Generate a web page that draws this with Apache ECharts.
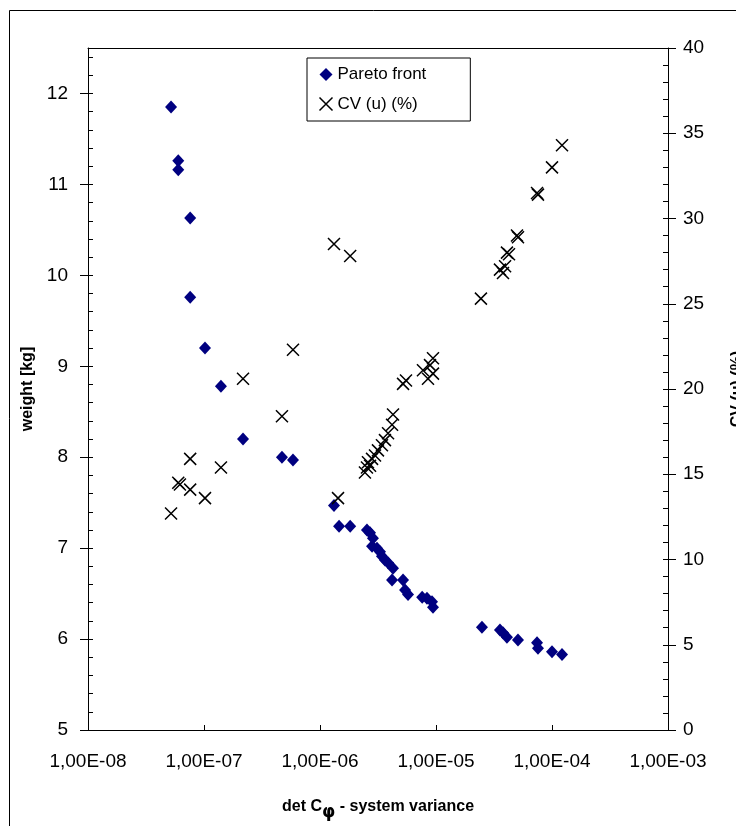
<!DOCTYPE html>
<html lang="en">
<head>
    <meta charset="UTF-8">
    <title>Pareto front</title>
    <script src="https://cdn.jsdelivr.net/npm/echarts@6/dist/echarts.min.js"></script>
    <style>
      html, body { margin: 0; padding: 0; background: #fff; }
    </style>
</head>
<body>
<div id="main" style="width: 736px;height:826px;"></div>

<script>
// Pareto front: det C (x) and weight [kg]
var paretoX = [5.2e-8, 6.0e-8, 6.0e-8, 7.6e-8, 7.6e-8, 1.02e-7, 1.40e-7, 2.17e-7, 4.70e-7, 5.85e-7,
  1.32e-6, 1.46e-6, 1.82e-6, 2.54e-6, 2.70e-6, 2.86e-6, 2.81e-6, 3.10e-6, 3.29e-6, 3.42e-6,
  3.63e-6, 3.86e-6, 4.26e-6, 4.18e-6, 5.20e-6, 5.41e-6, 5.74e-6, 7.60e-6, 8.36e-6, 9.24e-6,
  9.42e-6, 2.49e-5, 3.56e-5, 3.78e-5, 4.09e-5, 5.09e-5, 7.43e-5, 7.57e-5, 1.0e-4, 1.22e-4];
var paretoWeight = [11.85, 11.26, 11.16, 10.63, 9.76, 9.20, 8.78, 8.20, 8.00, 7.97,
  7.47, 7.24, 7.24, 7.20, 7.17, 7.11, 7.02, 7.00, 6.96, 6.91,
  6.87, 6.84, 6.78, 6.65, 6.65, 6.54, 6.49, 6.46, 6.45, 6.41,
  6.35, 6.13, 6.10, 6.07, 6.02, 5.99, 5.96, 5.90, 5.86, 5.83];

// CV(u) (%) points
var cvX = [5.2e-8, 6.0e-8, 6.2e-8, 7.6e-8, 7.6e-8, 1.02e-7, 1.40e-7, 2.17e-7, 4.70e-7, 5.85e-7,
  1.32e-6, 1.82e-6, 1.43e-6, 2.44e-6, 2.54e-6, 2.59e-6, 2.70e-6, 2.81e-6, 2.98e-6, 3.16e-6,
  3.42e-6, 3.63e-6, 3.86e-6, 4.18e-6, 4.26e-6, 5.20e-6, 5.51e-6, 7.72e-6, 8.53e-6, 8.88e-6,
  9.42e-6, 9.42e-6, 2.44e-5, 3.56e-5, 3.78e-5, 3.94e-5, 4.09e-5, 4.26e-5, 4.99e-5, 5.09e-5,
  7.43e-5, 7.57e-5, 1.0e-4, 1.22e-4];
var cvValue = [12.7, 14.5, 14.4, 15.9, 14.1, 13.6, 15.4, 20.6, 18.4, 22.3,
  28.5, 27.8, 13.6, 15.1, 15.4, 15.7, 15.5, 15.9, 16.1, 16.4,
  16.7, 17.0, 17.4, 17.9, 18.5, 20.3, 20.5, 21.1, 20.6, 21.4,
  21.8, 20.9, 25.3, 27.0, 26.8, 27.2, 28.0, 27.9, 29.0, 28.9,
  31.5, 31.4, 33.0, 34.3];

var font = 'Liberation Sans, Arial, sans-serif';
var crossPath = 'path://M0,0L10,10M10,0L0,10';

function pairs(xs, ys) {
  var out = [];
  for (var i = 0; i < xs.length; i++) out.push([xs[i], ys[i]]);
  return out;
}

// 1e-8 -> "1,00E-08"
function sciLabel(v) {
  var e = Math.round(Math.log(v) / Math.LN10);
  var s = Math.abs(e) < 10 ? '0' + Math.abs(e) : '' + Math.abs(e);
  return '1,00E' + (e < 0 ? '-' : '+') + s;
}

var myChart = echarts.init(document.getElementById('main'));

var labelStyle = { color: '#000', fontFamily: font, fontSize: 19 };
var nameStyle = { color: '#000', fontFamily: font, fontSize: 16, fontWeight: 'bold' };

var option = {
  backgroundColor: '#fff',
  animation: false,
  graphic: [{
    type: 'rect',
    shape: { x: 9.5, y: 10.5, width: 1000, height: 1000 },
    style: { fill: 'none', stroke: '#000', lineWidth: 1 },
    silent: true
  }],
  legend: {
    left: 307, top: 58,
    orient: 'vertical',
    width: 150,
    padding: [8, 44, 8, 10],
    itemGap: 12,
    itemWidth: 13, itemHeight: 13,
    borderColor: '#000', borderWidth: 1,
    backgroundColor: '#fff',
    textStyle: { color: '#000', fontFamily: font, fontSize: 17 },
    data: [
      { name: 'Pareto front', icon: 'diamond' },
      { name: 'CV (u) (%)', icon: crossPath, itemStyle: { color: 'none', borderColor: '#000', borderWidth: 1.5 } }
    ]
  },
  grid: { left: 88, right: 68, top: 48, bottom: 96, outerBoundsMode: 'none', containLabel: false },
  xAxis: [{
    type: 'log',
    logBase: 10,
    min: 1e-8, max: 1e-3,
    name: '{a|det C}{sub|φ}{a| - system variance}',
    nameLocation: 'middle',
    nameGap: 62,
    nameTextStyle: {
      rich: {
        a: { color: '#000', fontFamily: font, fontSize: 16, fontWeight: 'bold' },
        sub: { color: '#000', fontFamily: 'DejaVu Sans, sans-serif', fontSize: 17, fontWeight: 'bold', padding: [12, 0, 0, 0] }
      }
    },
    axisLine: { lineStyle: { color: '#000', width: 1 } },
    axisTick: { inside: true, length: 5, lineStyle: { color: '#000' } },
    axisLabel: Object.assign({ margin: 22, formatter: sciLabel }, labelStyle),
    splitLine: { show: false },
    minorTick: { show: false }
  }, {
    type: 'value',
    position: 'top',
    min: 0, max: 1,
    axisLine: { show: true, onZero: false, lineStyle: { color: '#000', width: 1 } },
    axisTick: { show: false },
    axisLabel: { show: false },
    splitLine: { show: false }
  }],
  yAxis: [{
    type: 'value',
    position: 'left',
    min: 5, max: 12.5, interval: 1,
    name: 'weight [kg]',
    nameLocation: 'middle',
    nameRotate: 90,
    nameGap: 48,
    nameTextStyle: nameStyle,
    axisLine: { show: true, lineStyle: { color: '#000', width: 1 } },
    axisTick: { show: true, inside: false, length: 8, lineStyle: { color: '#000' } },
    axisLabel: Object.assign({ margin: 20, showMaxLabel: false }, labelStyle),
    splitLine: { show: false }
  }, {
    type: 'value',
    position: 'right',
    min: 0, max: 40, interval: 5,
    name: 'CV (u) (%)',
    nameLocation: 'middle',
    nameRotate: 90,
    nameGap: 62,
    nameTextStyle: nameStyle,
    axisLine: { show: true, lineStyle: { color: '#000', width: 1 } },
    axisTick: { show: true, inside: false, length: 8, lineStyle: { color: '#000' } },
    axisLabel: Object.assign({ margin: 15 }, labelStyle),
    splitLine: { show: false }
  }, {
    // minor ticks left
    type: 'value',
    position: 'left',
    min: 5, max: 12.5, interval: 0.2,
    axisLine: { show: false },
    axisTick: { show: true, inside: true, length: 5, lineStyle: { color: '#000' } },
    axisLabel: { show: false },
    splitLine: { show: false }
  }, {
    // minor ticks right
    type: 'value',
    position: 'right',
    min: 0, max: 40, interval: 1,
    axisLine: { show: false },
    axisTick: { show: true, inside: true, length: 5, lineStyle: { color: '#000' } },
    axisLabel: { show: false },
    splitLine: { show: false }
  }],
  series: [{
    name: 'Pareto front',
    type: 'scatter',
    xAxisIndex: 0,
    yAxisIndex: 0,
    symbol: 'diamond',
    symbolSize: [12, 13],
    itemStyle: { color: '#000080', opacity: 1 },
    data: pairs(paretoX, paretoWeight)
  }, {
    name: 'CV (u) (%)',
    type: 'scatter',
    xAxisIndex: 0,
    yAxisIndex: 1,
    symbol: crossPath,
    symbolSize: 12,
    itemStyle: { color: 'none', borderColor: '#000', borderWidth: 1.5, opacity: 1 },
    data: pairs(cvX, cvValue)
  }]
};
myChart.setOption(option);
</script>
</body>
</html>
